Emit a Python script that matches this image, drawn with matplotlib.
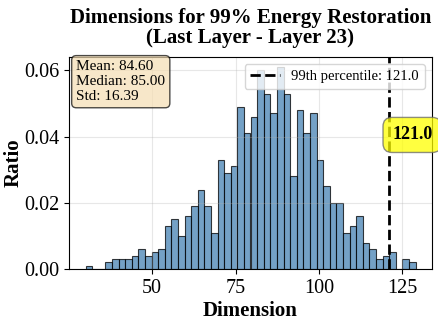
import matplotlib
matplotlib.use('Agg')
import matplotlib.pyplot as plt
import numpy as np

plt.rcParams['font.family'] = ['Liberation Serif', 'DejaVu Serif']

# histogram data (ratio per bin), 50 bins between min and max dimension
dim_min, dim_max = 30, 129
ratios = [0.001, 0.000, 0.000, 0.002, 0.003, 0.003, 0.003, 0.004, 0.006, 0.004,
          0.005, 0.006, 0.013, 0.015, 0.010, 0.016, 0.019, 0.024, 0.019, 0.011,
          0.033, 0.029, 0.031, 0.049, 0.041, 0.046, 0.060, 0.053, 0.047, 0.061,
          0.053, 0.028, 0.048, 0.041, 0.047, 0.033, 0.025, 0.020, 0.020, 0.011,
          0.013, 0.016, 0.008, 0.006, 0.003, 0.004, 0.005, 0.000, 0.003, 0.002]
p99 = 121.0
stats_text = "Mean: 84.60\nMedian: 85.00\nStd: 16.39"
title = "Dimensions for 99% Energy Restoration\n(Last Layer - Layer 23)"
xticks = [50, 75, 100, 125]
yticks = [0.0, 0.02, 0.04, 0.06]

edges = np.linspace(dim_min, dim_max, len(ratios) + 1)
centers = (edges[:-1] + edges[1:]) / 2

fig = plt.figure(figsize=(4.38, 3.21), dpi=100)
ax = fig.add_axes([69 / 438, 1 - 269 / 321, (432 - 69) / 438, (269 - 57) / 321])

ax.hist(centers, bins=edges, weights=ratios, color='steelblue', alpha=0.75,
        edgecolor='black', linewidth=0.8)
ax.axvline(p99, color='black', linestyle='--', linewidth=2,
           label=f'99th percentile: {p99:.1f}')

ax.text(0.02, 0.985, stats_text, transform=ax.transAxes, fontsize=11,
        va='top', ha='left', linespacing=1.2,
        bbox=dict(boxstyle='round,pad=0.3', facecolor='wheat', alpha=0.7))

ax.text(128.0, 0.0405, f'{p99:.1f}', fontsize=13, fontweight='bold',
        ha='center', va='center',
        bbox=dict(boxstyle='round,pad=0.5', facecolor='yellow', alpha=0.75,
                  edgecolor='dimgray'), clip_on=False)

ax.set_title(title, fontsize=15, fontweight='bold', pad=10, linespacing=1.0)
ax.set_xlabel('Dimension', fontsize=15, fontweight='bold', labelpad=2)
ax.set_ylabel('Ratio', fontsize=15, fontweight='bold', labelpad=0)
ax.tick_params(labelsize=14.5)
ax.set_xticks(xticks)
ax.set_yticks(yticks)
ax.grid(True, alpha=0.3)
ax.legend(loc='upper right', fontsize=10.5)

fig.savefig('out.png', dpi=100)
